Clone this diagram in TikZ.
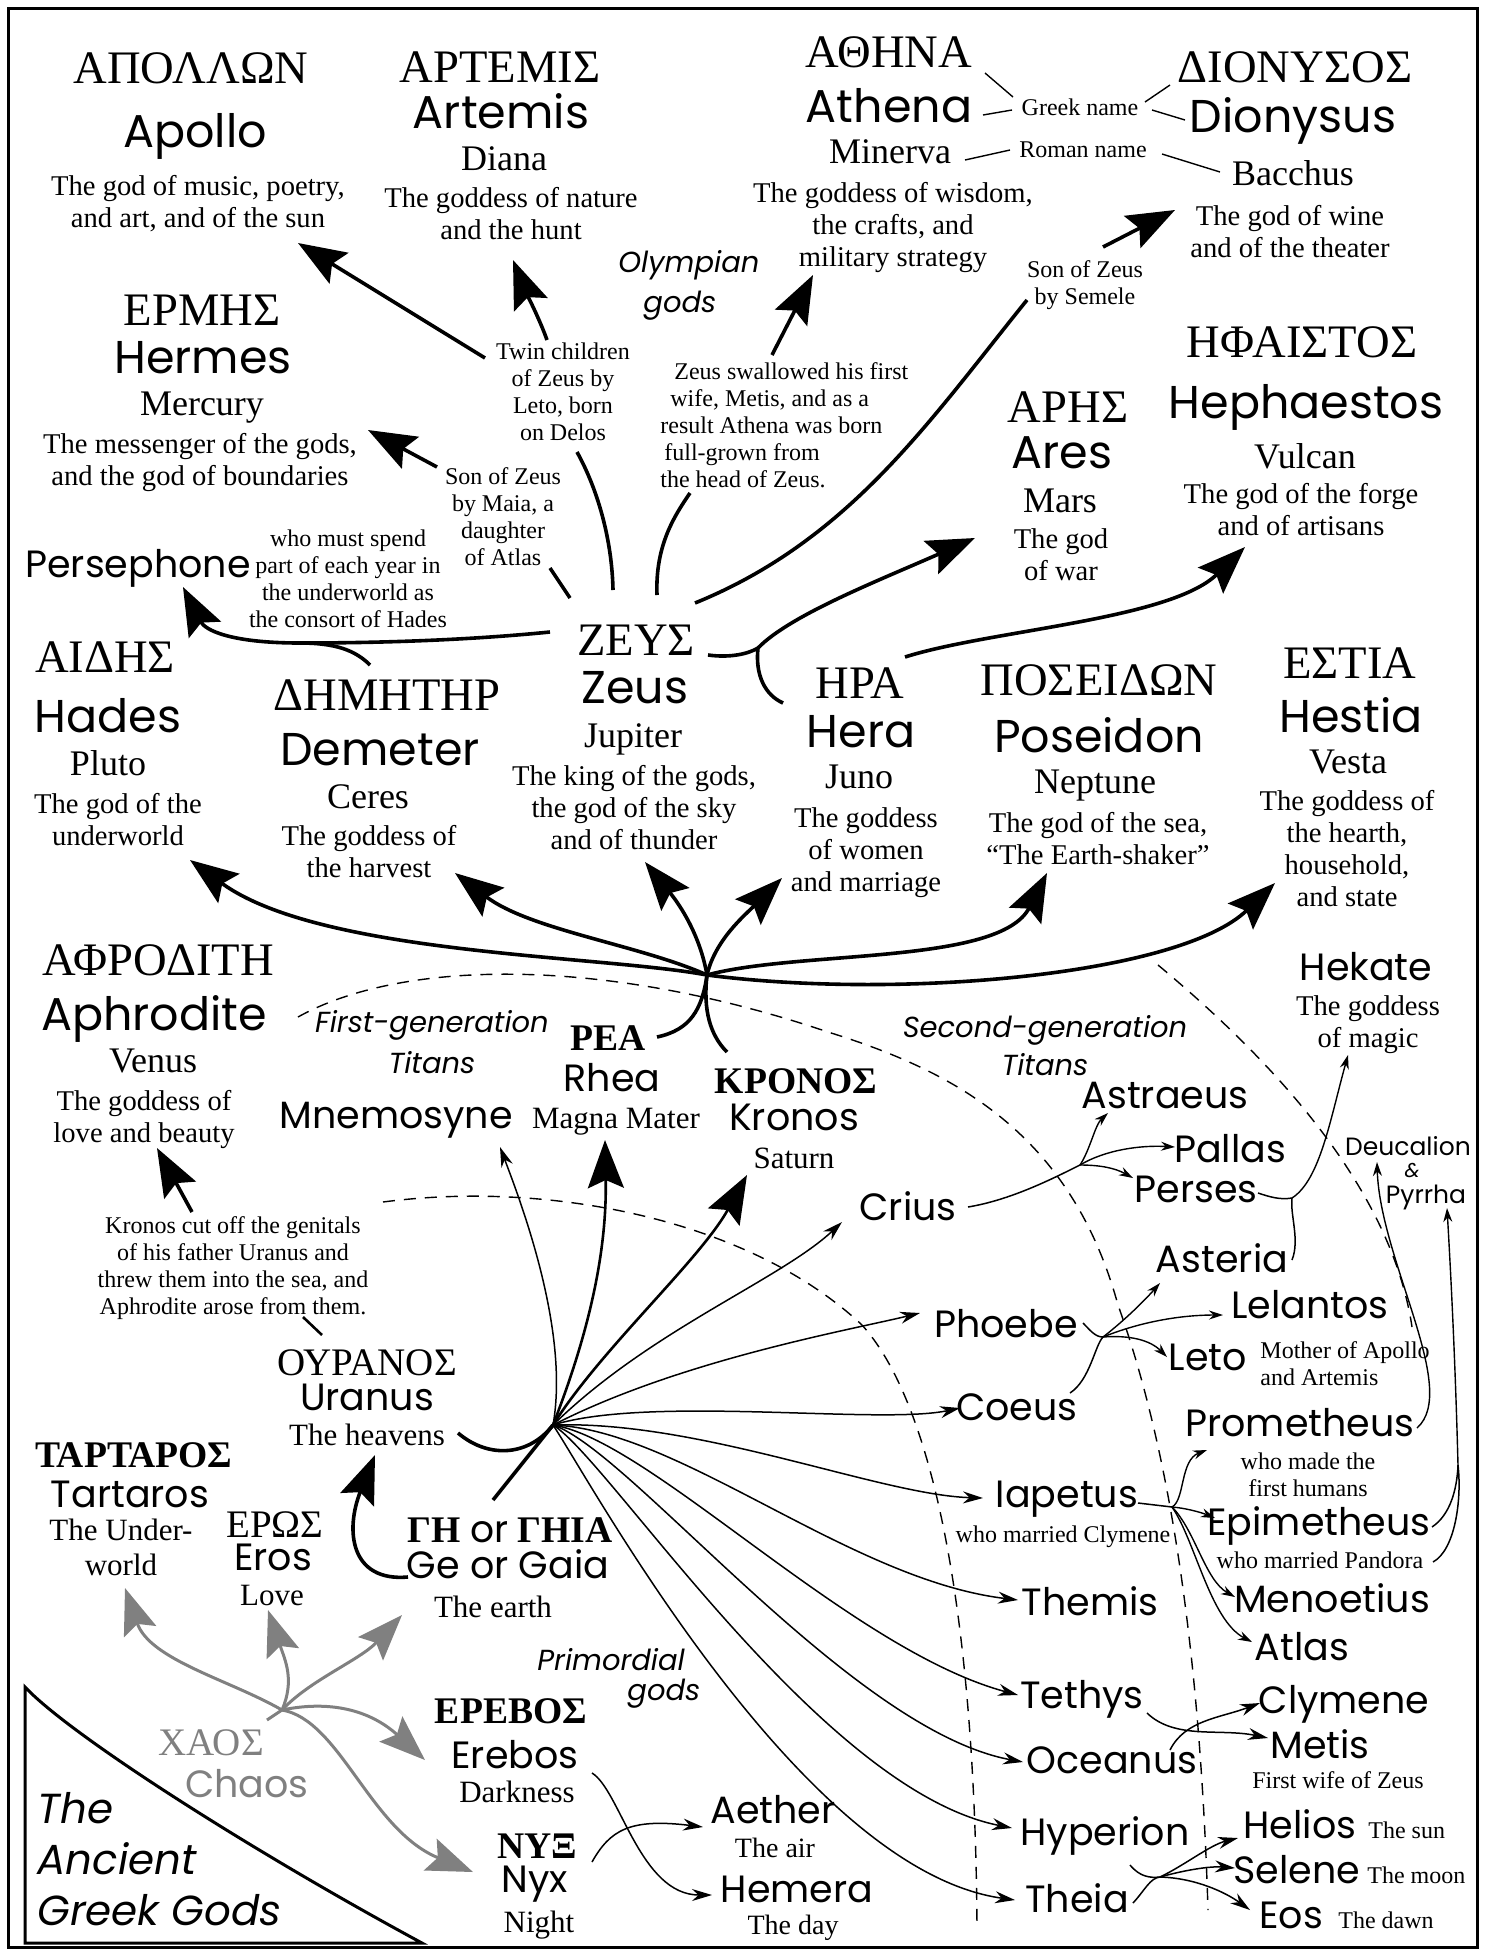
\documentclass[tikz,border=0pt]{standalone}
\usepackage{fontspec}
\setmainfont{Liberation Serif}
\newfontfamily\namefont{Poppins}
\usetikzlibrary{arrows.meta, positioning}
\definecolor{chaosgray}{HTML}{808080}
\tikzstyle{txt} = [inner sep=0pt, anchor=base]
\tikzstyle{gkbig} = [txt, font=\fontsize{23.3}{26}\selectfont]
\tikzstyle{gkmid} = [txt, font=\fontsize{19.5}{22}\selectfont]
\tikzstyle{gkbold} = [txt, font=\bfseries\fontsize{18.8}{22}\selectfont]
\tikzstyle{nmbig} = [txt, font=\namefont\fontsize{23}{26}\selectfont]
\tikzstyle{nm} = [txt, font=\namefont\fontsize{19}{22}\selectfont]
\tikzstyle{nmsmall} = [txt, font=\namefont\fontsize{12.5}{14}\selectfont]
\tikzstyle{rmbig} = [txt, font=\fontsize{18}{20}\selectfont]
\tikzstyle{rm} = [txt, font=\fontsize{15.5}{17.5}\selectfont]
\tikzstyle{rmsmall} = [txt, font=\fontsize{14}{16}\selectfont]
\tikzstyle{desc} = [inner sep=0pt, anchor=north, align=center, font=\fontsize{14.3}{16}\selectfont]
\tikzstyle{note} = [inner sep=0pt, anchor=north, align=center, font=\fontsize{12}{13.5}\selectfont]
\tikzstyle{grp} = [inner sep=0pt, anchor=north, align=center, font=\namefont\itshape\fontsize{14.5}{20}\selectfont]
\tikzstyle{ttl} = [inner sep=0pt, anchor=north west, align=left, font=\namefont\itshape\fontsize{21}{25.5}\selectfont]
\tikzstyle{bigarrow} = [line width=1.8pt, -{Stealth[length=24pt,width=18pt,inset=4pt]}]
\tikzstyle{midarrow} = [line width=1.3pt, -{Stealth[length=24pt,width=18pt,inset=4pt]}]
\tikzstyle{grayarrow} = [line width=1.5pt, chaosgray, -{Stealth[length=23pt,width=17pt,inset=4pt]}]
\tikzstyle{thinarrow} = [line width=0.75pt, -{Stealth[length=10pt,width=6pt]}]
\tikzstyle{tinyarrow} = [line width=0.7pt, -{Stealth[length=7pt,width=4.5pt]}]
\tikzstyle{thicklink} = [line width=1.8pt]
\tikzstyle{thinlink} = [line width=0.75pt]
\tikzstyle{leader} = [line width=0.7pt]
\tikzstyle{grayline} = [line width=1.5pt, chaosgray]
\tikzstyle{titanline} = [line width=0.7pt, dash pattern=on 6pt off 4.5pt]

\begin{document}
\begin{tikzpicture}[x=0.5pt, y=-0.5pt]
\useasboundingbox (0,0) rectangle (1485,1955);
\draw[line width=1.5pt] (8,8) rectangle (1477,1947);

% Olympians
\node (apolloG) [gkbig] at (191,83) {ΑΠΟΛΛΩΝ};
\node (apollo) [nmbig] at (195,147) {Apollo};
\node (apolloD) [desc] at (198,175) {The god of music, poetry,\\and art, and of the sun};
\node (artemisG) [gkbig] at (500,82) {ΑΡΤΕΜΙΣ};
\node (artemis) [nmbig] at (501,128) {Artemis};
\node (diana) [rmbig] at (504,170) {Diana};
\node (artemisD) [desc] at (511,187) {The goddess of nature\\and the hunt};
\node (olympian) [grp, anchor=north west, align=left] at (618,250) {Olympian\\\hspace*{12.5pt}gods};
\node (athenaG) [gkbig] at (889,67) {ΑΘΗΝΑ};
\node (athena) [nmbig] at (889,122) {Athena};
\node (minerva) [rmbig] at (890,163) {Minerva};
\node (athenaD) [desc] at (893,182) {The goddess of wisdom,\\the crafts, and\\military strategy};
\node (greekname) [note, anchor=base] at (1080,115) {Greek name};
\node (romanname) [note, anchor=base] at (1083,157) {Roman name};
\node (dionysusG) [gkbig] at (1295,82) {ΔΙΟΝΥΣΟΣ};
\node (dionysus) [nmbig] at (1293,132) {Dionysus};
\node (bacchus) [rmbig] at (1293,185) {Bacchus};
\node (dionysusD) [desc] at (1290,205) {The god of wine\\and of the theater};
\node (semele) [note] at (1085,260) {Son of Zeus\\by Semele};
\node (twin) [note] at (563,342) {Twin children\\of Zeus by\\Leto, born\\on Delos};
\node (athnote) [note, anchor=north west, align=left] at (660,362) {\hspace*{7pt}Zeus swallowed his first\\\hspace*{5pt}wife, Metis, and as a\\result Athena was born\\\hspace*{2pt}full-grown from\\the head of Zeus.};
\node (hermesG) [gkbig] at (202,325) {ΕΡΜΗΣ};
\node (hermes) [nmbig] at (203,373) {Hermes};
\node (mercury) [rmbig] at (202,415) {Mercury};
\node (hermesD) [desc] at (200,433) {The messenger of the gods,\\and the god of boundaries};
\node (maia) [note] at (503,467) {Son of Zeus\\by Maia, a\\daughter\\of Atlas};
\node (aresG) [gkbig] at (1068,422) {ΑΡΗΣ};
\node (ares) [nmbig] at (1062,468) {Ares};
\node (mars) [rmbig] at (1060,512) {Mars};
\node (aresD) [desc] at (1061,528) {The god\\of war};
\node (hephG) [gkbig] at (1302,357) {ΗΦΑΙΣΤΟΣ};
\node (heph) [nmbig] at (1306,418) {Hephaestos};
\node (vulcan) [rmbig] at (1305,468) {Vulcan};
\node (hephD) [desc] at (1301,483) {The god of the forge\\and of artisans};
\node (persephone) [nm] at (138,577) {Persephone};
\node (persephoneD) [note] at (348,529) {who must spend\\part of each year in\\the underworld as\\the consort of Hades};
\node (hadesG) [gkbig] at (105,672) {ΑΙΔΗΣ};
\node (hades) [nmbig] at (108,732) {Hades};
\node (pluto) [rmbig] at (108,775) {Pluto};
\node (hadesD) [desc] at (118,793) {The god of the\\underworld};
\node (demeterG) [gkbig] at (387,710) {ΔΗΜΗΤΗΡ};
\node (demeter) [nmbig] at (380,765) {Demeter};
\node (ceres) [rmbig] at (368,808) {Ceres};
\node (demeterD) [desc] at (369,825) {The goddess of\\the harvest};
\node (zeusG) [gkbig] at (636,655) {ΖΕΥΣ};
\node (zeus) [nmbig] at (635,703) {Zeus};
\node (jupiter) [rmbig] at (633,747) {Jupiter};
\node (zeusD) [desc] at (634,765) {The king of the gods,\\the god of the sky\\and of thunder};
\node (heraG) [gkbig] at (860,698) {ΗΡΑ};
\node (hera) [nmbig] at (861,747) {Hera};
\node (juno) [rmbig] at (859,788) {Juno};
\node (heraD) [desc] at (866,807) {The goddess\\of women\\and marriage};
\node (poseidonG) [gkbig] at (1099,695) {ΠΟΣΕΙΔΩΝ};
\node (poseidon) [nmbig] at (1099,752) {Poseidon};
\node (neptune) [rmbig] at (1095,793) {Neptune};
\node (poseidonD) [desc] at (1098,812) {The god of the sea,\\“The Earth-shaker”};
\node (hestiaG) [gkbig] at (1350,678) {ΕΣΤΙΑ};
\node (hestia) [nmbig] at (1351,732) {Hestia};
\node (vesta) [rmbig] at (1348,773) {Vesta};
\node (hestiaD) [desc] at (1347,790) {The goddess of\\the hearth,\\household,\\and state};
\node (aphroditeG) [gkbig] at (158,975) {ΑΦΡΟΔΙΤΗ};
\node (aphrodite) [nmbig] at (154,1030) {Aphrodite};
\node (venus) [rmbig] at (153,1072) {Venus};
\node (aphroditeD) [desc] at (144,1090) {The goddess of\\love and beauty};
\node (hekate) [nm] at (1366,980) {Hekate};
\node (hekateD) [desc] at (1368,995) {The goddess\\of magic};

% Titans
\node (firstgen) [grp, font=\namefont\itshape\fontsize{14.5}{20.5}\selectfont] at (432,1010) {First-generation\\Titans};
\node (secondgen) [grp, font=\namefont\itshape\fontsize{14.5}{19}\selectfont] at (1045,1015) {Second-generation\\Titans};
\node (rheaG) [gkbold] at (608,1050) {ΡΕΑ};
\node (rhea) [nm] at (612,1091) {Rhea};
\node (magna) [rm] at (616,1128) {Magna Mater};
\node (kronosG) [gkbold] at (796,1093) {ΚΡΟΝΟΣ};
\node (kronos) [nm] at (794,1130) {Kronos};
\node (saturn) [rm] at (794,1168) {Saturn};
\node (mnemosyne) [nm] at (396,1128) {Mnemosyne};
\node (crius) [nm] at (908,1220) {Crius};
\node (phoebe) [nm] at (1006,1337) {Phoebe};
\node (coeus) [nm] at (1017,1420) {Coeus};
\node (iapetus) [nm] at (1067,1507) {Iapetus};
\node (iapetusD) [note, anchor=base] at (1063,1542) {who married Clymene};
\node (themis) [nm] at (1090,1615) {Themis};
\node (tethys) [nm] at (1082,1708) {Tethys};
\node (oceanus) [nm] at (1112,1773) {Oceanus};
\node (hyperion) [nm] at (1105,1845) {Hyperion};
\node (theia) [nm] at (1077,1912) {Theia};
\node (astraeus) [nm] at (1165,1108) {Astraeus};
\node (pallas) [nm] at (1230,1162) {Pallas};
\node (perses) [nm] at (1196,1202) {Perses};
\node (asteria) [nm] at (1222,1272) {Asteria};
\node (lelantos) [nm] at (1310,1318) {Lelantos};
\node (leto) [nm] at (1208,1370) {Leto};
\node (letoD) [note, anchor=north west, align=left] at (1260,1341) {Mother of Apollo\\and Artemis};
\node (deucalion) [nmsmall] at (1408,1155) {Deucalion};
\node (amp) [nmsmall, font=\namefont\itshape\fontsize{10}{12}\selectfont] at (1412,1177) {\&};
\node (pyrrha) [nmsmall] at (1426,1203) {Pyrrha};
\node (prometheus) [nm] at (1300,1436) {Prometheus};
\node (prometheusD) [note] at (1308,1452) {who made the\\first humans};
\node (epimetheus) [nm] at (1319,1535) {Epimetheus};
\node (epimetheusD) [note, anchor=base] at (1320,1568) {who married Pandora};
\node (menoetius) [nm] at (1332,1612) {Menoetius};
\node (atlas) [nm] at (1302,1660) {Atlas};
\node (clymene) [nm] at (1344,1713) {Clymene};
\node (metis) [nm] at (1320,1758) {Metis};
\node (metisD) [note, anchor=base] at (1338,1788) {First wife of Zeus};
\node (helios) [nm] at (1300,1838) {Helios};
\node (heliosD) [note, anchor=base west] at (1368,1838) {The sun};
\node (selene) [nm] at (1297,1883) {Selene};
\node (seleneD) [note, anchor=base west] at (1367,1883) {The moon};
\node (eos) [nm] at (1291,1928) {Eos};
\node (eosD) [note, anchor=base west] at (1338,1928) {The dawn};

% Primordial gods
\node (kronosnote) [note] at (233,1216) {Kronos cut off the genitals\\of his father Uranus and\\threw them into the sea, and\\Aphrodite arose from them.};
\node (uranusG) [gkmid] at (367,1375) {ΟΥΡΑΝΟΣ};
\node (uranus) [nm] at (367,1410) {Uranus};
\node (heavens) [rm] at (367,1445) {The heavens};
\node (gaiaG) [gkbold] at (510,1542) {ΓΗ {\namefont\mdseries or} ΓΗΙΑ};
\node (gaia) [nm] at (508,1578) {Ge or Gaia};
\node (earth) [rm] at (493,1617) {The earth};
\node (tartarosG) [gkbold] at (134,1467) {ΤΑΡΤΑΡΟΣ};
\node (tartaros) [nm] at (130,1507) {Tartaros};
\node (tartarosD) [rm, anchor=north, align=center] at (121,1519) {The Under-\\world};
\node (erosG) [gkmid] at (275,1537) {ΕΡΩΣ};
\node (eros) [nm] at (273,1570) {Eros};
\node (love) [rm] at (272,1605) {Love};
\node (primordial) [grp, anchor=north west, align=left, font=\namefont\itshape\fontsize{14.5}{15}\selectfont] at (537,1648) {Primordial\\\hspace*{45pt}gods};
\node (chaosG) [gkmid, text=chaosgray] at (211,1755) {ΧΑΟΣ};
\node (chaos) [nm, text=chaosgray] at (247,1797) {Chaos};
\node (erebosG) [gkbold] at (511,1723) {ΕΡΕΒΟΣ};
\node (erebos) [nm] at (515,1768) {Erebos};
\node (darkness) [rm] at (517,1802) {Darkness};
\node (nyxG) [gkbold] at (537,1858) {ΝΥΞ};
\node (nyx) [nm] at (535,1892) {Nyx};
\node (night) [rm] at (539,1932) {Night};
\node (aether) [nm] at (773,1823) {Aether};
\node (air) [rmsmall] at (775,1857) {The air};
\node (hemera) [nm] at (797,1902) {Hemera};
\node (day) [rmsmall] at (793,1934) {The day};
\node (title) [ttl] at (37,1792) {The\\Ancient\\Greek Gods};
\draw[line width=1.5pt] (25,1687) -- (25,1943) -- (422,1943) .. controls (250,1850) and (70,1735) .. cycle;

% generation boundaries
\draw[titanline] (298,1017) .. controls (400,960) and (600,955) .. (828,1032) .. controls (950,1070) and (1070,1130) .. (1118,1305) .. controls (1170,1450) and (1200,1650) .. (1208,1910);
\draw[titanline] (383,1202) .. controls (550,1180) and (750,1220) .. (862,1325) .. controls (930,1400) and (975,1600) .. (977,1928);
\draw[titanline] (1158,965) .. controls (1260,1050) and (1390,1180) .. (1412,1327);

\coordinate (KR) at (707,975);
\coordinate (UG) at (553,1425);
\coordinate (ZH) at (758,648);
\coordinate (ZD) at (300,643);
\coordinate (CR) at (1080,1165);
\coordinate (PA) at (1292,1198);
\coordinate (PC) at (1103,1337);
\coordinate (IA) at (1172,1507);
\coordinate (EP) at (1458,1465);
\coordinate (HT) at (1160,1877);
\coordinate (CH) at (282,1710);

\draw[leader] ([shift={(96,6)}]athenaG.base) -- ([shift={(-67,-18)}]greekname.base);
\draw[leader] ([shift={(94,-7)}]athena.base) -- ([shift={(-68,-5)}]greekname.base);
\draw[leader] ([shift={(75,-3)}]minerva.base) -- ([shift={(-73,-7)}]romanname.base);
\draw[leader] ([shift={(65,-13)}]greekname.base) -- ([shift={(-125,3)}]dionysusG.base);
\draw[leader] ([shift={(72,-5)}]greekname.base) -- ([shift={(-108,-12)}]dionysus.base);
\draw[leader] ([shift={(79,-3)}]romanname.base) -- ([shift={(-73,-13)}]bacchus.base);

\draw[thicklink] ([shift={(-23,-65)}]zeusG.base) .. controls (612,540) and (598,490) .. ([shift={(14,110)}]twin.north);
\draw[bigarrow] ([shift={(-78,16)}]twin.north) -- ([shift={(100,68)}]apolloD.north);
\draw[bigarrow] ([shift={(-16,-2)}]twin.north) .. controls (540,320) and (525,290) .. ([shift={(2,73)}]artemisD.north);
\draw[thicklink] ([shift={(-66,-57)}]zeusG.base) -- ([shift={(47,101)}]maia.north);
\draw[bigarrow] ([shift={(-66,0)}]maia.north) -- ([shift={(168,-3)}]hermesD.north);
\draw[thicklink] ([shift={(21,-60)}]zeusG.base) .. controls (655,545) and (675,515) .. ([shift={(30,131)}]athnote.north west);
\draw[bigarrow] ([shift={(112,-7)}]athnote.north west) -- ([shift={(-80,93)}]athenaD.north);
\draw[thicklink] ([shift={(59,-52)}]zeusG.base) .. controls (850,540) and (930,420) .. ([shift={(-58,40)}]semele.north);
\draw[bigarrow] ([shift={(18,-13)}]semele.north) -- ([shift={(-115,5)}]dionysusD.north);
\draw[bigarrow] ([shift={(-86,-23)}]zeusG.base) .. controls (450,642) and (350,643) .. (ZD) .. controls (230,643) and (205,630) .. ([shift={(45,10)}]persephone.base);
\draw[thicklink] ([shift={(-17,-45)}]demeterG.base) .. controls (355,650) and (335,643) .. (ZD);
\draw[thicklink] ([shift={(72,0)}]zeusG.base) .. controls (730,658) and (748,654) .. (ZH) .. controls (755,675) and (765,695) .. ([shift={(-77,5)}]heraG.base);
\draw[bigarrow] (ZH) .. controls (790,615) and (880,580) .. ([shift={(-86,10)}]aresD.north);
\draw[bigarrow] ([shift={(45,-41)}]heraG.base) .. controls (990,630) and (1170,620) .. ([shift={(-56,64)}]hephD.north);

\draw[thicklink] ([shift={(49,-13)}]rheaG.base) .. controls (690,1030) and (702,1010) .. (KR);
\draw[thicklink] ([shift={(-69,-41)}]kronosG.base) .. controls (710,1035) and (703,1010) .. (KR);
\draw[bigarrow] (KR) .. controls (600,955) and (320,955) .. ([shift={(72,67)}]hadesD.north);
\draw[bigarrow] (KR) .. controls (640,945) and (530,930) .. ([shift={(86,48)}]demeterD.north);
\draw[bigarrow] (KR) .. controls (700,935) and (680,905) .. ([shift={(11,97)}]zeusD.north);
\draw[bigarrow] (KR) .. controls (715,940) and (745,915) .. ([shift={(-84,71)}]heraD.north);
\draw[bigarrow] (KR) .. controls (800,950) and (1000,965) .. ([shift={(-51,61)}]poseidonD.north);
\draw[bigarrow] (KR) .. controls (900,1000) and (1180,975) .. ([shift={(-72,93)}]hestiaD.north);

\draw[bigarrow] ([shift={(-41,-4)}]kronosnote.north) -- ([shift={(13,58)}]aphroditeD.north);
\draw[line width=1.3pt] ([shift={(70,101)}]kronosnote.north) -- ([shift={(-45,-40)}]uranusG.base);
\draw[thicklink] ([shift={(91,-12)}]heavens.base) .. controls (490,1460) and (530,1455) .. (UG);
\draw[thicklink] ([shift={(-17,-42)}]gaiaG.base) -- (UG);
\draw[bigarrow] ([shift={(-100,-1)}]gaia.base) .. controls (350,1582) and (345,1530) .. ([shift={(8,10)}]heavens.base);

\draw[thinarrow] (UG) .. controls (570,1330) and (520,1200) .. ([shift={(104,19)}]mnemosyne.base);
\draw[midarrow] (UG) .. controls (590,1330) and (607,1250) .. ([shift={(-11,12)}]magna.base);
\draw[midarrow] (UG) .. controls (600,1350) and (700,1260) .. ([shift={(-47,7)}]saturn.base);
\draw[thinarrow] (UG) .. controls (650,1330) and (780,1280) .. ([shift={(-66,2)}]crius.base);
\draw[thinarrow] (UG) .. controls (680,1360) and (850,1330) .. ([shift={(-86,-24)}]phoebe.base);
\draw[thinarrow] (UG) .. controls (650,1395) and (880,1425) .. ([shift={(-57,-12)}]coeus.base);
\draw[thinarrow] (UG) .. controls (700,1420) and (880,1495) .. ([shift={(-84,-9)}]iapetus.base);
\draw[thinarrow] (UG) .. controls (680,1430) and (850,1580) .. ([shift={(-72,-15)}]themis.base);
\draw[thinarrow] (UG) .. controls (650,1440) and (850,1650) .. ([shift={(-64,-13)}]tethys.base);
\draw[thinarrow] (UG) .. controls (630,1450) and (850,1730) .. ([shift={(-89,-11)}]oceanus.base);
\draw[thinarrow] (UG) .. controls (610,1460) and (820,1790) .. ([shift={(-93,-17)}]hyperion.base);
\draw[thinarrow] (UG) .. controls (590,1480) and (800,1870) .. ([shift={(-62,-12)}]theia.base);

\draw[thinlink] ([shift={(60,-13)}]crius.base) .. controls (1010,1200) and (1050,1180) .. (CR);
\draw[tinyarrow] (CR) .. controls (1090,1150) and (1095,1125) .. ([shift={(-57,5)}]astraeus.base);
\draw[tinyarrow] (CR) .. controls (1105,1150) and (1140,1145) .. ([shift={(-55,-15)}]pallas.base);
\draw[tinyarrow] (CR) .. controls (1100,1165) and (1115,1168) .. ([shift={(-63,-24)}]perses.base);
\draw[thinlink] ([shift={(62,-9)}]perses.base) .. controls (1270,1197) and (1280,1200) .. (PA);
\draw[thinlink] ([shift={(70,-12)}]asteria.base) .. controls (1300,1240) and (1290,1215) .. (PA);
\draw[tinyarrow] (PA) .. controls (1320,1180) and (1330,1120) .. ([shift={(-20,60)}]hekateD.north);
\draw[thinlink] ([shift={(77,-14)}]phoebe.base) .. controls (1090,1330) and (1095,1337) .. (PC);
\draw[thinlink] ([shift={(53,-27)}]coeus.base) .. controls (1090,1380) and (1095,1345) .. (PC);
\draw[tinyarrow] (PC) .. controls (1125,1320) and (1145,1300) .. ([shift={(-62,11)}]asteria.base);
\draw[tinyarrow] (PC) .. controls (1140,1322) and (1180,1315) .. ([shift={(-87,-3)}]lelantos.base);
\draw[tinyarrow] (PC) .. controls (1130,1335) and (1150,1340) .. ([shift={(-41,-13)}]leto.base);
\draw[thinlink] ([shift={(71,-4)}]iapetus.base) -- (IA);
\draw[tinyarrow] (IA) .. controls (1185,1500) and (1180,1460) .. ([shift={(-93,14)}]prometheus.base);
\draw[tinyarrow] (IA) .. controls (1185,1508) and (1200,1512) .. ([shift={(-104,-17)}]epimetheus.base);
\draw[tinyarrow] (IA) .. controls (1195,1530) and (1205,1580) .. ([shift={(-97,-15)}]menoetius.base);
\draw[tinyarrow] (IA) .. controls (1195,1540) and (1210,1620) .. ([shift={(-50,-18)}]atlas.base);
\draw[tinyarrow] ([shift={(117,-8)}]prometheus.base) .. controls (1460,1390) and (1380,1260) .. ([shift={(-31,7)}]deucalion.base);
\draw[thinlink] ([shift={(113,-8)}]epimetheus.base) .. controls (1450,1515) and (1457,1490) .. (EP);
\draw[thinlink] ([shift={(113,-6)}]epimetheusD.base) .. controls (1455,1550) and (1462,1500) .. (EP);
\draw[tinyarrow] (EP) .. controls (1455,1350) and (1450,1260) .. ([shift={(21,5)}]pyrrha.base);
\draw[thinarrow] ([shift={(65,5)}]tethys.base) .. controls (1175,1740) and (1220,1728) .. ([shift={(-52,-20)}]metis.base);
\draw[thinarrow] ([shift={(58,-23)}]oceanus.base) .. controls (1185,1720) and (1220,1718) .. ([shift={(-84,-10)}]clymene.base);
\draw[thinlink] ([shift={(25,20)}]hyperion.base) .. controls (1140,1877) and (1150,1878) .. (HT);
\draw[thinlink] ([shift={(56,-9)}]theia.base) .. controls (1145,1890) and (1150,1878) .. (HT);
\draw[thinarrow] (HT) .. controls (1185,1865) and (1210,1845) .. ([shift={(-62,0)}]helios.base);
\draw[thinarrow] (HT) .. controls (1185,1870) and (1210,1866) .. ([shift={(-62,-15)}]selene.base);
\draw[thinarrow] (HT) .. controls (1195,1878) and (1225,1892) .. ([shift={(-41,-18)}]eos.base);

\draw[thinarrow] ([shift={(77,5)}]erebos.base) .. controls (620,1790) and (640,1895) .. ([shift={(-85,-7)}]hemera.base);
\draw[thinarrow] ([shift={(57,-30)}]nyx.base) .. controls (610,1830) and (630,1818) .. ([shift={(-70,4)}]aether.base);

\draw[grayline] ([shift={(56,-35)}]chaosG.base) -- (CH);
\draw[grayarrow] (CH) .. controls (230,1680) and (150,1660) .. ([shift={(4,69)}]tartarosD.north);
\draw[grayarrow] (CH) .. controls (295,1680) and (285,1660) .. ([shift={(-4,5)}]love.base);
\draw[grayarrow] (CH) .. controls (310,1680) and (360,1660) .. ([shift={(-91,-2)}]earth.base);
\draw[grayarrow] (CH) .. controls (330,1700) and (370,1710) .. ([shift={(-90,-8)}]erebos.base);
\draw[grayarrow] (CH) .. controls (340,1720) and (370,1830) .. ([shift={(-64,14)}]nyxG.base);
\end{tikzpicture}
\end{document}
